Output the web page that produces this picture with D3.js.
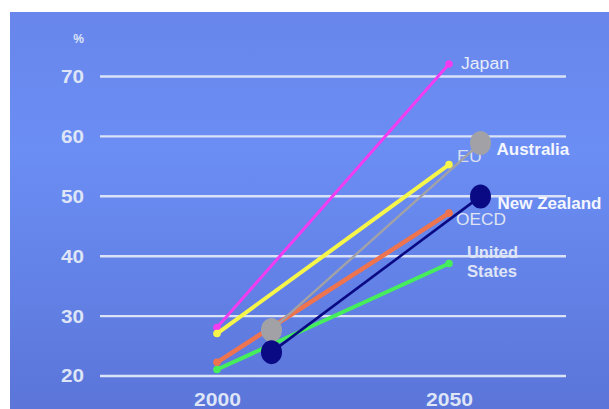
<!DOCTYPE html>
<html>
<head>
<meta charset="utf-8">
<script src="https://cdn.jsdelivr.net/npm/d3@7"></script>
<style>
  html, body { margin: 0; padding: 0; background: #ffffff; }
  svg { display: block; }
  text { font-family: "Liberation Sans", Arial, sans-serif; }
</style>
</head>
<body>
<svg id="chart" width="609" height="409"></svg>
<script>
// Share of the population (%) — 2000 vs 2050
const years = [2000, 2050];
const yTicks = [20, 30, 40, 50, 60, 70];

const japan = [28, 72];
const eu = [27, 55.2];
const oecd = [22.2, 47.1];
const unitedStates = [21, 38.7];

// Highlighted countries, drawn as a separate overlay layer
const australia = [27.6, 58.8];
const newZealand = [23.9, 49.9];

const svg = d3.select("#chart");

// Panel background
const defs = svg.append("defs");
const grad = defs.append("linearGradient")
  .attr("id", "bg").attr("x1", 0).attr("y1", 0).attr("x2", 0).attr("y2", 1);
grad.append("stop").attr("offset", "0%").attr("stop-color", "#6886ec");
grad.append("stop").attr("offset", "35%").attr("stop-color", "#6b8ef4");
grad.append("stop").attr("offset", "100%").attr("stop-color", "#5b75d9");

svg.append("rect")
  .attr("x", 10).attr("y", 12)
  .attr("width", 599).attr("height", 397)
  .attr("fill", "url(#bg)");

// Scales
const gridLeft = 100, gridRight = 566;
const y = d3.scaleLinear().domain([20, 70]).range([375.5, 76]);
const x = d3.scaleLinear().domain([2000, 2050]).range([217, 449]);
const xOverlay = d3.scaleLinear().domain([2000, 2050]).range([271.5, 480.5]);

// Y axis with full-width gridlines
const yAxis = svg.append("g")
  .attr("transform", `translate(${gridLeft},0)`)
  .call(d3.axisLeft(y).tickValues(yTicks).tickSize(-(gridRight - gridLeft)).tickPadding(16));
yAxis.select(".domain").remove();
yAxis.selectAll(".tick line")
  .attr("stroke", "#d9e2f6").attr("stroke-width", 2.4);
yAxis.selectAll(".tick text")
  .attr("fill", "#dde5f7")
  .attr("font-size", 18).attr("font-weight", "bold")
  .attr("textLength", 23).attr("lengthAdjust", "spacingAndGlyphs")
  .attr("dy", "0.36em");

svg.append("text")
  .attr("x", 84).attr("y", 43)
  .attr("text-anchor", "end")
  .attr("fill", "#dde5f7")
  .attr("font-size", 12).attr("font-weight", "bold")
  .text("%");

// X axis labels
const xAxis = svg.append("g")
  .attr("transform", `translate(0,${y(20)})`)
  .call(d3.axisBottom(x).tickValues(years).tickFormat(d3.format("d")).tickSize(0).tickPadding(17.5));
xAxis.select(".domain").remove();
xAxis.selectAll(".tick text")
  .attr("fill", "#dde5f7")
  .attr("font-size", 18).attr("font-weight", "bold")
  .attr("textLength", 47).attr("lengthAdjust", "spacingAndGlyphs");

// Main series
const mainSeries = [
  { name: "Japan", values: japan, color: "#f23cf2", width: 3 },
  { name: "EU", values: eu, color: "#f6f54a", width: 4 },
  { name: "OECD", values: oecd, color: "#ee7450", width: 4.5 },
  { name: "United States", values: unitedStates, color: "#45ee5a", width: 4 }
];

const line = d3.line().x(d => x(d.year)).y(d => y(d.value));
const toPoints = vals => years.map((yr, i) => ({ year: yr, value: vals[i] }));

mainSeries.forEach(s => {
  const pts = toPoints(s.values);
  svg.append("path")
    .datum(pts)
    .attr("d", line)
    .attr("fill", "none")
    .attr("stroke", s.color)
    .attr("stroke-width", s.width)
    .attr("stroke-linecap", "round");
  svg.selectAll(null)
    .data(pts)
    .join("circle")
    .attr("cx", d => x(d.year))
    .attr("cy", d => y(d.value))
    .attr("r", 3.8)
    .attr("fill", s.color);
});

// End labels for main series
const endLabels = [
  { lines: ["Japan"], value: japan[1], dx: 12, dy: 4.5, size: 16, weight: "normal", len: [48], color: "#e6ecfa" },
  { lines: ["EU"], value: eu[1], dx: 8, dy: -3, size: 17, weight: "normal", len: [25], color: "#d9dff0" },
  { lines: ["OECD"], value: oecd[1], dx: 7, dy: 12, size: 17, weight: "normal", len: [50], color: "#dfe4f3" },
  { lines: ["United", "States"], value: unitedStates[1], dx: 18, dy: -5, size: 16, weight: "bold", len: [51, 50], color: "#dfe5f6" }
];
endLabels.forEach(l => {
  l.lines.forEach((t, i) => {
    svg.append("text")
      .attr("x", x(2050) + l.dx)
      .attr("y", y(l.value) + l.dy + i * 19)
      .attr("fill", l.color)
      .attr("font-size", l.size)
      .attr("font-weight", l.weight)
      .attr("textLength", l.len[i]).attr("lengthAdjust", "spacingAndGlyphs")
      .text(t);
  });
});

// Overlay layer: Australia and New Zealand
const overlaySeries = [
  { name: "Australia", values: australia, color: "#a2a2a6", width: 2.4, dx: 16, dy: 12 },
  { name: "New Zealand", values: newZealand, color: "#0a0a84", width: 2.6, dx: 17, dy: 13 }
];
const overlayLine = d3.line().x(d => xOverlay(d.year)).y(d => y(d.value));

overlaySeries.forEach(s => {
  const pts = toPoints(s.values);
  svg.append("path")
    .datum(pts)
    .attr("d", overlayLine)
    .attr("fill", "none")
    .attr("stroke", s.color)
    .attr("stroke-width", s.width);
});
overlaySeries.forEach(s => {
  const pts = toPoints(s.values);
  svg.selectAll(null)
    .data(pts)
    .join("ellipse")
    .attr("cx", d => xOverlay(d.year))
    .attr("cy", d => y(d.value))
    .attr("rx", 10.5)
    .attr("ry", 12)
    .attr("fill", s.color);
  svg.append("text")
    .attr("x", xOverlay(2050) + s.dx)
    .attr("y", y(s.values[1]) + s.dy)
    .attr("fill", "#f4f6ff")
    .attr("font-size", 17)
    .attr("font-weight", "bold")
    .text(s.name);
});
</script>
</body>
</html>
